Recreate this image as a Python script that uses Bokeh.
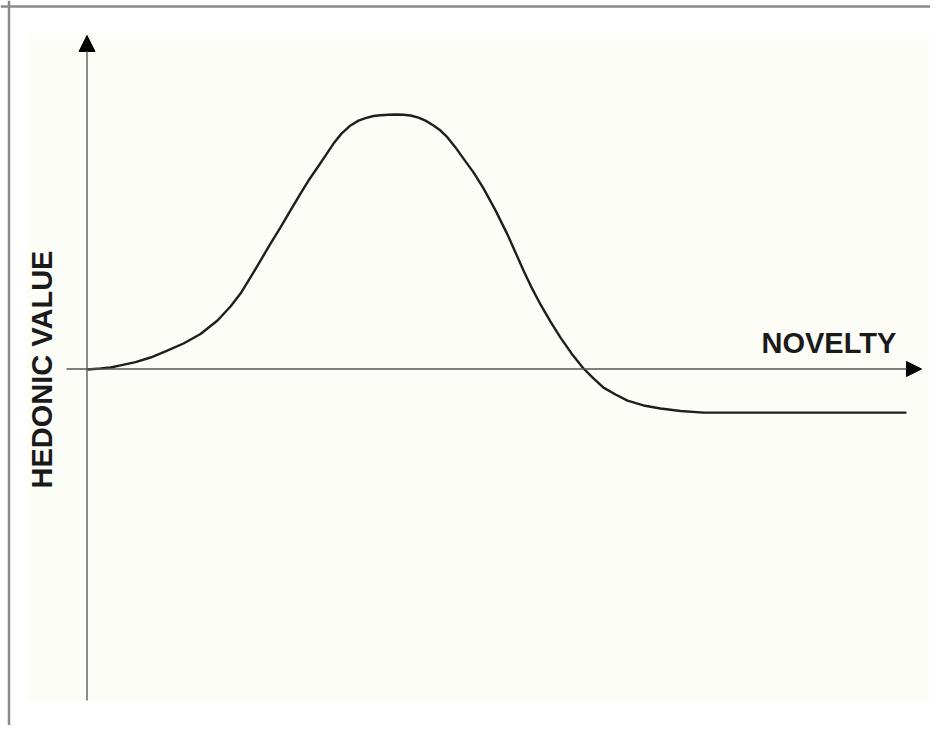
import numpy as np
from bokeh.plotting import figure
from bokeh.models import Range1d, Arrow, NormalHead, Span, BoxAnnotation, Label
from bokeh.embed import file_html
from bokeh.resources import INLINE

# ---- data (novelty along the axis, hedonic value with peak = 1) ----
novelty = [0, 1.3, 2.3, 3.3, 4.8, 6.3, 7.8, 9.6, 11.3, 13.0, 14.3, 15.3, 16.3, 17.3,
           18.3, 19.3, 20.3, 21.3, 22.1, 23.0, 23.8, 24.6, 25.4, 26.3, 27.1, 27.8,
           28.6, 29.3, 30.1, 30.8, 31.6, 32.3, 33.1, 33.8, 34.6, 35.3, 36.0, 36.8,
           37.6, 38.6, 39.6, 40.8, 42.0, 42.8, 43.6, 44.4, 45.3, 46.3, 47.3, 48.4,
           49.6, 50.6, 51.6, 52.8, 54.0, 55.6, 57.3, 59.3, 61.6, 67.3, 74.3, 81.8]
hedonic = [0, 0.004, 0.008, 0.016, 0.029, 0.047, 0.071, 0.102, 0.139, 0.192, 0.247,
           0.298, 0.361, 0.427, 0.494, 0.557, 0.624, 0.690, 0.741, 0.792, 0.839,
           0.886, 0.925, 0.957, 0.976, 0.986, 0.994, 0.997, 0.999, 1.0, 0.999, 0.996,
           0.988, 0.976, 0.957, 0.937, 0.910, 0.871, 0.827, 0.773, 0.710, 0.624,
           0.529, 0.459, 0.388, 0.322, 0.255, 0.188, 0.125, 0.063, 0.004, -0.035,
           -0.071, -0.098, -0.122, -0.141, -0.153, -0.163, -0.169, -0.169, -0.169, -0.169]
x_label = "NOVELTY"
y_label = "HEDONIC VALUE"

# ---- layout helpers (figure pixel -> data) ----
X0, XS = 87.0, 10.0      # pixel x of novelty 0, pixels per novelty unit
Y0, YS = 369.0, 255.0    # pixel y of hedonic 0, pixels per hedonic unit
def dx(px): return (px - X0) / XS
def dy(py): return (Y0 - py) / YS

W, H = 930, 725
p = figure(width=W, height=H, output_backend="svg", toolbar_location=None,
           x_range=Range1d(dx(0), dx(W)), y_range=Range1d(dy(H), dy(0)),
           min_border=0, background_fill_color="white", border_fill_color="white",
           outline_line_color=None)
p.xaxis.visible = False
p.yaxis.visible = False
p.xgrid.visible = False
p.ygrid.visible = False

# off-white panel
p.add_layout(BoxAnnotation(left=dx(27), right=dx(929), top=dy(33), bottom=dy(701),
                           fill_color="#fdfdf8", fill_alpha=1.0, line_color=None, level="underlay"))
# gray frame lines (top and left)
p.add_layout(Span(location=dy(6), dimension="width", line_color="#8a8a8a", line_width=2.5))
p.add_layout(Span(location=dx(8.5), dimension="height", line_color="#8a8a8a", line_width=2.5))

# axes as arrows
p.add_layout(Arrow(x_start=dx(86.5), y_start=dy(700), x_end=dx(86.5), y_end=dy(35),
                   line_color="#6e6e6e", line_width=1.6,
                   end=NormalHead(size=16, fill_color="black", line_color="black", line_width=1)))
p.add_layout(Arrow(x_start=dx(66), y_start=dy(368.5), x_end=dx(921), y_end=dy(368.5),
                   line_color="#555555", line_width=1.4,
                   end=NormalHead(size=15, fill_color="black", line_color="black", line_width=1)))

# curve
p.line(novelty, hedonic, line_color="#1e1e1e", line_width=2.4, line_join="round", line_cap="round")

# labels
p.add_layout(Label(x=dx(761), y=dy(342), text=x_label, text_font="Liberation Sans",
                   text_font_style="bold", text_font_size="29px", text_color="#1a1a1a",
                   text_align="left", text_baseline="alphabetic"))
p.add_layout(Label(x=dx(41), y=dy(369), text=y_label, angle=np.pi / 2, text_font="Liberation Sans",
                   text_font_style="bold", text_font_size="29px", text_color="#1a1a1a",
                   text_align="center", text_baseline="alphabetic"))

open("out.html", "w").write(file_html(p, INLINE))
